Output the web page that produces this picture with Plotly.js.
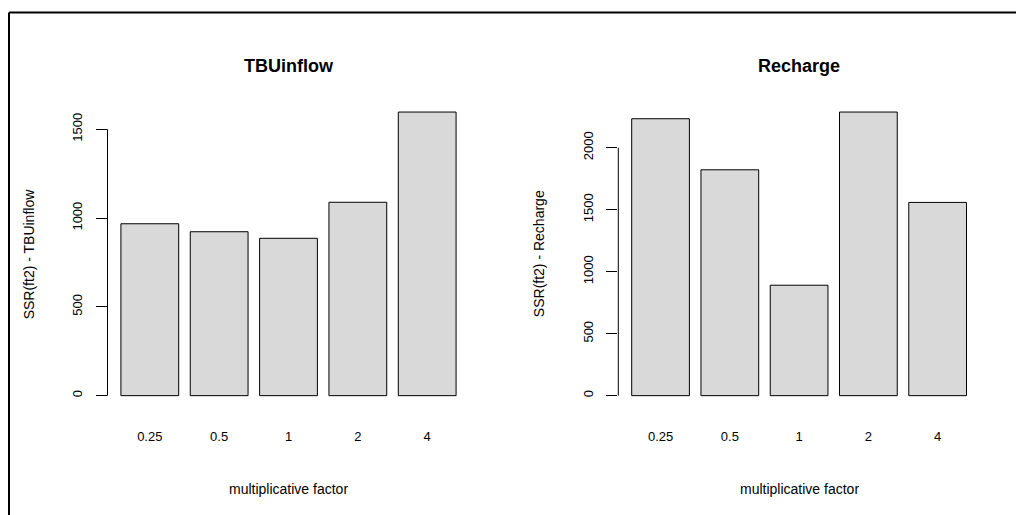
<!DOCTYPE html>
<html>
<head>
<meta charset="utf-8">
<script src="https://cdn.plot.ly/plotly-3.0.1.min.js"></script>
<style>
html, body { margin: 0; padding: 0; background: #fff; }
#chart { width: 1016px; height: 515px; }
</style>
</head>
<body>
<div id="chart"></div>
<script>
// ---- data ----
var categories = ['0.25', '0.5', '1', '2', '4'];
var tbuInflow = [968, 923, 886, 1089, 1597];
var recharge = [2234, 1822, 891, 2288, 1559];
var tbuTicks = [0, 500, 1000, 1500];
var rechargeTicks = [0, 500, 1000, 1500, 2000];
var panelTitles = ['TBUinflow', 'Recharge'];
var yTitles = ['SSR(ft2) - TBUinflow', 'SSR(ft2) - Recharge'];
var xTitle = 'multiplicative factor';

var FONT = 'Liberation Sans, Arial, Helvetica, sans-serif';
var xDom1 = [107.5 / 1016, 469.5 / 1016];
var xDom2 = [618.3 / 1016, 979.9 / 1016];
var yDom = [1 - 407 / 515, 1 - 100.7 / 515];

function rRange(vals) {
  var mx = Math.max.apply(null, vals);
  return [-0.04 * mx, 1.04 * mx];
}

function barTrace(vals, xa, ya) {
  return {
    type: 'bar', x: categories, y: vals, xaxis: xa, yaxis: ya,
    marker: { color: '#d9d9d9', line: { color: '#000', width: 1 } },
    hoverinfo: 'x+y', showlegend: false
  };
}

function yAxis(dom, ticks, vals, anchor) {
  return {
    domain: dom, anchor: anchor, range: rRange(vals),
    tickmode: 'array', tickvals: ticks, ticktext: ticks.map(String),
    ticks: 'outside', ticklen: 11, tickwidth: 1, tickcolor: '#000',
    tickangle: -90, ticklabelstandoff: 8,
    showgrid: false, zeroline: false, showline: false,
    tickfont: { family: FONT, size: 13, color: '#000' }, fixedrange: true
  };
}

function xAxis(dom, anchor) {
  return {
    domain: dom, anchor: anchor, type: 'category', range: [-0.61, 4.61],
    ticks: '', showgrid: false, zeroline: false, showline: false,
    ticklabelstandoff: 20,
    tickfont: { family: FONT, size: 13, color: '#000' }, fixedrange: true
  };
}

var data = [barTrace(tbuInflow, 'x', 'y'), barTrace(recharge, 'x2', 'y2')];

function axisLine(xref, yref, ticks) {
  return {
    type: 'line', xref: xref + ' domain', yref: yref,
    x0: 0, x1: 0, y0: ticks[0], y1: ticks[ticks.length - 1],
    line: { color: '#000', width: 1 }
  };
}

var annotations = [];
[xDom1, xDom2].forEach(function (d, i) {
  var cx = (d[0] + d[1]) / 2;
  annotations.push({
    xref: 'paper', yref: 'paper', x: cx, y: 1 - 66 / 515,
    xanchor: 'center', yanchor: 'middle', showarrow: false,
    text: '<b>' + panelTitles[i] + '</b>',
    font: { family: FONT, size: 18, color: '#000' }
  });
  annotations.push({
    xref: 'paper', yref: 'paper', x: cx, y: 1 - 489 / 515,
    xanchor: 'center', yanchor: 'middle', showarrow: false,
    text: xTitle, font: { family: FONT, size: 14, color: '#000' }
  });
  annotations.push({
    xref: 'paper', yref: 'paper', x: (d[0] * 1016 - 79) / 1016, y: (yDom[0] + yDom[1]) / 2,
    xanchor: 'center', yanchor: 'middle', showarrow: false, textangle: -90,
    text: yTitles[i], font: { family: FONT, size: 14, color: '#000' }
  });
});

var shapes = [
  axisLine('x', 'y', tbuTicks),
  axisLine('x2', 'y2', rechargeTicks),
  { type: 'line', xref: 'paper', yref: 'paper', x0: 9 / 1016, x1: 9 / 1016, y0: -0.1, y1: 1 - 12.5 / 515, line: { color: '#000', width: 2 } },
  { type: 'line', xref: 'paper', yref: 'paper', x0: 9 / 1016, x1: 1.1, y0: 1 - 12.5 / 515, y1: 1 - 12.5 / 515, line: { color: '#000', width: 2 } }
];

var layout = {
  width: 1016, height: 515,
  margin: { l: 0, r: 0, t: 0, b: 0 },
  paper_bgcolor: '#fff', plot_bgcolor: '#fff',
  bargap: 1 / 6,
  xaxis: xAxis(xDom1, 'y'),
  yaxis: yAxis(yDom, tbuTicks, tbuInflow, 'x'),
  xaxis2: xAxis(xDom2, 'y2'),
  yaxis2: yAxis(yDom, rechargeTicks, recharge, 'x2'),
  annotations: annotations,
  shapes: shapes,
  showlegend: false
};

Plotly.newPlot('chart', data, layout, { displayModeBar: false, staticPlot: true });
</script>
</body>
</html>
